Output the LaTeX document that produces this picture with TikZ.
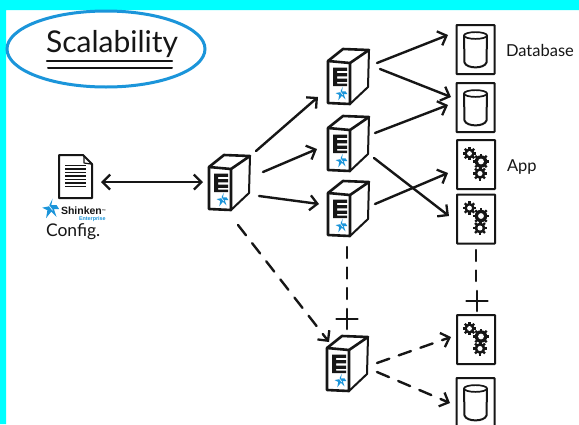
\documentclass[tikz,border=0pt]{standalone}
\usepackage{fontspec}
\setmainfont{Liberation Sans}
\newfontfamily\handfont{Lato}
\usetikzlibrary{arrows.meta,shapes.geometric}
\definecolor{inkc}{HTML}{161616}
\definecolor{bluec}{HTML}{1B95DA}
\definecolor{cyanc}{HTML}{00FFFF}
\tikzset{
  ink/.style={draw=inkc,line cap=round,line join=round},
  anchorbox/.style={inner sep=0pt,outer sep=0pt},
  srvbox/.style={anchorbox,minimum width=42pt,minimum height=56pt},
  panelbox/.style={anchorbox,draw=inkc,line width=2pt,minimum width=38pt,minimum height=49pt,rounded corners=0.5pt},
  arr/.style={ink,line width=2.4pt,-{Straight Barb[length=7.5pt,width=15pt,line width=2.3pt]}},
  dbl/.style={ink,line width=2.4pt,{Straight Barb[length=7.5pt,width=15pt,line width=2.3pt]}-{Straight Barb[length=7.5pt,width=15pt,line width=2.3pt]}},
  darr/.style={arr,dash pattern=on 13pt off 10pt},
  dline/.style={ink,line width=2.4pt,dash pattern=on 11pt off 9.5pt},
  hand/.style={anchorbox,text=inkc,font=\handfont},
  starlogo/.pic={
    \fill[bluec] (-6,-1)--(-1,-2)--(2,-8)--(1,-3)--(5,-3)--(7,0)--(3,0)--(5,6)--(1,2)--(-3,7)--(-2,1)--cycle;
    \draw[white,line width=.6pt] (-1,-3)--(2,1);
  },
  serverpic/.pic={
    \begin{scope}[shift={(-20,-15)}]
      \draw[ink,line width=2.6pt] (0,0)--(22,2)--(22,43)--(0,42)--cycle;
      \draw[ink,line width=2.6pt] (0,0)--(15,-12)--(41,-11)--(22,2);
      \draw[ink,line width=2pt] (41,-11)--(40,26)--(22,43);
      \fill[inkc] (5,6.5) rectangle (19,9.8) (5,12) rectangle (19,15.3) (5,17.5) rectangle (19,20.8) (5,22.5) rectangle (19,25) (5,6.5) rectangle (9,25);
      \pic[scale=.9] at (13,33) {starlogo};
    \end{scope}
  },
  gearpic/.pic={
    \foreach \a in {0,45,...,315}{\draw[inkc,line width=2.4pt] (0,0)--(\a:#1);}
    \fill[inkc] (0,0) circle ({#1*0.78});
    \fill[white] (0,0) circle ({#1*0.36});
  },
  gearset/.pic={
    \pic at (-6.5,-11) {gearpic=6.6};
    \pic at (5,-3) {gearpic=8};
    \pic at (4,9) {gearpic=7};
  },
  cylpic/.pic={
    \draw[ink,line width=1.7pt] (0,-14) ellipse (11.5 and 3.4);
    \draw[ink,line width=2pt] (-11.5,-14)--(-11,13) .. controls (-9,19.5) and (9,19.5) .. (11,13)--(11.5,-14);
  },
  plusmark/.pic={
    \draw[ink,line width=2.6pt] (-10.5,0)--(10.5,0) (0,-10)--(0,10);
  }
}
\newcommand{\conn}[5][arr]{\draw[#1] ([shift={(#3)}]#2.center) -- ([shift={(#5)}]#4.center);}
\begin{document}
\begin{tikzpicture}[x=1pt,y=-1pt]
\useasboundingbox (0,0) rectangle (579,424);
\clip (0,0) rectangle (579,424);
\fill[white] (0,0) rectangle (579,424);
\fill[cyanc] (0,0) rectangle (579,10) (0,0) rectangle (6,424);
% title
\node[anchorbox,draw=bluec,line width=3pt,ellipse,minimum width=198pt,minimum height=76pt] (titlering) at (106,49) {};
\node[hand,font=\handfont\fontsize{30}{30}\selectfont] (title) at (112,44) {Scalability};
\draw[ink,line width=2.4pt] (47,61)--(172,61);
\draw[ink,line width=2pt] (48,68)--(172,68);
% config document
\node[anchorbox,minimum width=33pt,minimum height=43pt] (doc) at (75.5,176.5) {};
\draw[ink,line width=2pt] (59,155)--(83,155)--(92,164)--(92,198)--(59,198)--cycle;
\draw[ink,line width=1.2pt] (84,156)--(84,163)--(91,164);
\foreach \yy in {165.5,169,172.5,176,179.5,183,186.5}{\draw[inkc,line width=1.8pt] (65,\yy)--(86,\yy);}
\pic[scale=1.3] at (50,209) {starlogo};
\node[anchorbox,anchor=west,text=inkc,font=\bfseries\fontsize{10.5}{11}\selectfont] (shinken) at (61,211) {Shinken\raisebox{2pt}{\fontsize{4}{4}\selectfont ™}};
\node[anchorbox,anchor=west,text=bluec,font=\bfseries\fontsize{5.4}{6}\selectfont] (ent) at (79,219.5) {Enterprise};
\node[hand,font=\handfont\fontsize{17.5}{18}\selectfont,anchor=west] (cfg) at (46,232) {Config.};
% servers
\foreach \nm/\pp in {s0/{229,182},s1/{348,76},s2/{348,143},s3/{348,208},sb/{347,363}}{
  \node[srvbox] (\nm) at (\pp) {};
  \pic at (\nm.center) {serverpic};
}
% panels
\node[panelbox] (db1) at (475.5,49.5) {};
\node[panelbox] (db2) at (475.5,107.5) {};
\node[panelbox] (app1) at (476,164.5) {};
\node[panelbox] (app2) at (476,219) {};
\node[panelbox] (app3) at (476,339.5) {};
\node[panelbox] (db3) at (475.5,402.5) {};
\pic at (db1.center) {cylpic};
\pic at (db2.center) {cylpic};
\pic at (db3.center) {cylpic};
\pic at (app1.center) {gearset};
\pic at (app2.center) {gearset};
\pic at (app3.center) {gearset};
% labels
\node[hand,font=\handfont\fontsize{16.5}{17}\selectfont,anchor=west] (lbdb) at (506,50) {Database};
\node[hand,font=\handfont\fontsize{16.5}{17}\selectfont,anchor=west] (lbapp) at (507,167) {App};
% plus marks
\node[anchorbox,minimum size=20pt] (p1) at (347,319) {};
\node[anchorbox,minimum size=20pt] (p2) at (477,301) {};
\pic at (p1.center) {plusmark};
\pic at (p2.center) {plusmark};
% connectors
\conn[dbl]{doc}{25.5,5.5}{s0}{-26,0}
\conn{s0}{27,-31}{s1}{-30,21}
\conn{s0}{34,-10}{s2}{-31,6}
\conn{s0}{30,14}{s3}{-29,-4}
\conn{s1}{29,-13}{db1}{-27.5,-14.5}
\conn{s1}{32,-7}{db2}{-24.5,-10.5}
\conn{s2}{27,-10}{db2}{-27.5,-2.5}
\conn{s2}{26,15}{app2}{-27,-3}
\conn{s3}{27,-4}{app1}{-28,8.5}
\conn[darr]{s0}{9,43}{sb}{-18,-21}
\conn[darr]{sb}{30,0}{app3}{-25,-2.5}
\conn[darr]{sb}{30,9}{db3}{-25.5,0.5}
\conn[dline]{s3}{-1,39}{p1}{0,-20}
\conn[dline]{app2}{0,31}{p2}{-1,-20}
\end{tikzpicture}
\end{document}
